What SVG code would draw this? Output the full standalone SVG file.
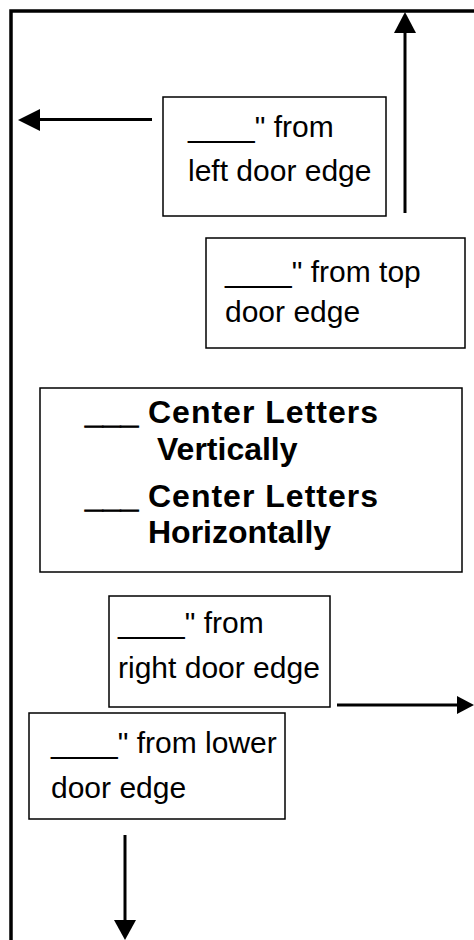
<svg xmlns="http://www.w3.org/2000/svg" width="474" height="940" viewBox="0 0 474 940">
<style>
.box{fill:#fff;stroke:#000;stroke-width:1.5}
.t{font-family:"Liberation Sans",Arial,sans-serif;font-size:30px;fill:#000}
.b{font-family:"Liberation Sans",Arial,sans-serif;font-size:32px;font-weight:bold;fill:#000}
.u{stroke:#000;stroke-width:1}
.c{stroke:#000;stroke-width:3;fill:none}
.h{fill:#000}
</style>
<rect width="474" height="940" fill="#fff"/>
<g id="door">
<path d="M11,940 V11 H474" stroke="#000" stroke-width="3.5" fill="none"/>
</g>
<g id="connectors">
<path d="M152,119.5 H38" class="c"/>
<path class="h" d="M18,120 L40,109 L40,131 Z"/>
<path d="M405,213 V33" class="c"/>
<path class="h" d="M405,12 L394,33 L416,33 Z"/>
<path d="M337,705 H458" class="c"/>
<path class="h" d="M474,705 L457,696 L457,714 Z"/>
<path d="M125,835 V921" class="c"/>
<path class="h" d="M125,940 L114,920 L136,920 Z"/>
</g>
<g id="left-edge">
<rect class="box" x="163" y="97" width="223" height="119"/>
<text class="t" x="188" y="137">____" from</text>
<text class="t" x="188" y="181">left door edge</text>
</g>
<g id="top-edge">
<rect class="box" x="206" y="238" width="259" height="110"/>
<text class="t" x="225" y="282">____" from top</text>
<text class="t" x="225" y="322">door edge</text>
</g>
<g id="center">
<rect class="box" x="40" y="388" width="422" height="184"/>
<text class="b" x="85" y="423"><tspan class="u">___</tspan> <tspan x="148" textLength="230" lengthAdjust="spacing">Center Letters</tspan></text>
<text class="b" x="157" y="460">Vertically</text>
<text class="b" x="85" y="507"><tspan class="u">___</tspan> <tspan x="148" textLength="230" lengthAdjust="spacing">Center Letters</tspan></text>
<text class="b" x="148" y="543">Horizontally</text>
</g>
<g id="right-edge">
<rect class="box" x="109" y="596" width="221" height="111"/>
<text class="t" x="118" y="633">____" from</text>
<text class="t" x="118" y="678">right door edge</text>
</g>
<g id="lower-edge">
<rect class="box" x="29" y="713" width="256" height="106"/>
<text class="t" x="51" y="753">____" from lower</text>
<text class="t" x="51" y="798">door edge</text>
</g>
</svg>
